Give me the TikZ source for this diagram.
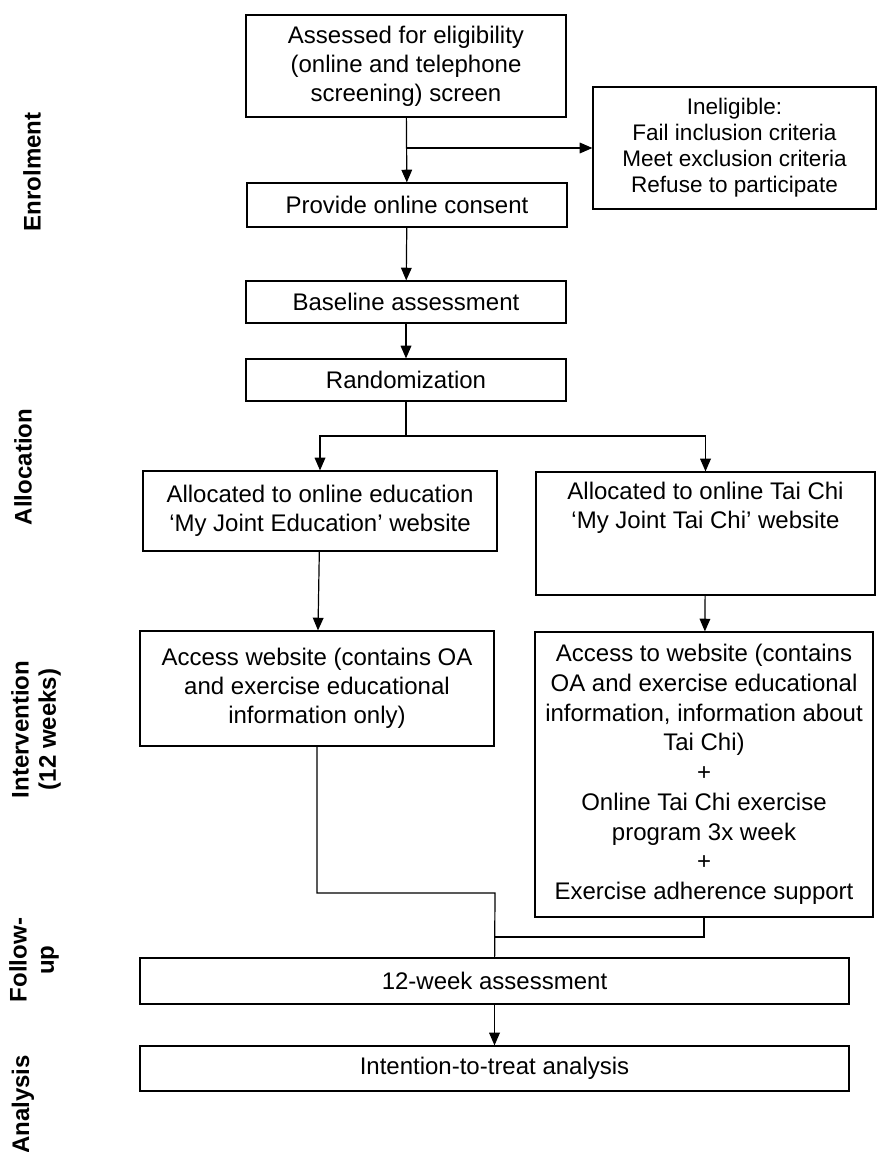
\documentclass[tikz,border=0pt]{standalone}
\usepackage{fontspec}
\setmainfont{Liberation Sans}
\usetikzlibrary{arrows.meta}

\tikzset{
  box/.style={draw, line width=0.9pt, align=center, inner sep=0pt,
    font=\fontsize{18}{21.6}\selectfont},
  phase/.style={rotate=90, align=center, font=\bfseries\fontsize{18}{20.5}\selectfont},
  arr/.style={draw, -{Triangle[length=9.5pt,width=8pt]}, line width=0.9pt},
  link/.style={line width=0.9pt},
}

\begin{document}
\begin{tikzpicture}[x=0.75pt,y=-0.75pt]
    \useasboundingbox (0,0) rectangle (878,1152);

    % phases
    \node[phase] (phEnrol) at (32,172) {Enrolment};
    \node[phase] (phAlloc) at (23,467) {Allocation};
    \node[phase] (phInter) at (36,729.5) {Intervention\\(12 weeks)};
    \node[phase] (phFollow) at (34,960) {Follow-\\up};
    \node[phase] (phAnalysis) at (23,1104.5) {Analysis};

    % boxes
    \node[box, minimum width=240pt, minimum height=76.5pt] (assess) at (406,66)
        {Assessed for eligibility\\(online and telephone\\screening) screen};
    \node[box, minimum width=212.25pt, minimum height=91.5pt,
          font=\fontsize{16.9}{19.5}\selectfont] (inelig) at (734.5,148)
        {Ineligible:\\Fail inclusion criteria\\Meet exclusion criteria\\Refuse to participate};
    \node[box, minimum width=240pt, minimum height=33pt] (consent) at (407,205)
        {Provide online consent};
    \node[box, minimum width=240pt, minimum height=31.5pt] (baseline) at (406,302)
        {Baseline assessment};
    \node[box, minimum width=240pt, minimum height=31.5pt] (random) at (406,380)
        {Randomization};
    \node[box, minimum width=265.5pt, minimum height=60pt] (allocEd) at (320,511)
        {Allocated to online education\\‘My Joint Education’ website};
    \node[box, minimum width=254.25pt, minimum height=92.25pt] (allocTC) at (705.5,533.5) {};
    \node[align=center, inner sep=0pt, font=\fontsize{18}{21.6}\selectfont] (allocTCtext) at (705.5,507.5)
        {Allocated to online Tai Chi\\‘My Joint Tai Chi’ website};
    \node[box, minimum width=265.5pt, minimum height=86.25pt] (accessEd) at (317,688.5)
        {Access website (contains OA\\and exercise educational\\information only)};
    \node[box, minimum width=253.5pt, minimum height=213.75pt,
          font=\fontsize{18}{22.3}\selectfont] (accessTC) at (704,774.5)
        {Access to website (contains\\OA and exercise educational\\information, information about\\Tai Chi)\\+\\Online Tai Chi exercise\\program 3x week\\+\\Exercise adherence support};
    \node[box, minimum width=531.75pt, minimum height=34.5pt] (week12) at (494.5,981)
        {12-week assessment};
    \node[box, minimum width=531.75pt, minimum height=33.75pt] (analysis) at (494.5,1068.5)
        {Intention-to-treat analysis};

    % connectors
    \coordinate (split) at (assess.south |- inelig.west);
    \coordinate (fork) at (406,436);
    \coordinate (join) at (495,893);
    \coordinate (join2) at (495,937);

    \path
        (assess) edge[arr] (consent)
        (consent) edge[arr] (baseline)
        (baseline) edge[arr] (random)
        (allocEd) edge[arr] (accessEd)
        (allocTC) edge[arr] (accessTC)
        (week12) edge[arr] (analysis)
        (split) edge[arr] (inelig);
    \draw[link] (random) -- (fork);
    \draw[arr] (fork) -| (allocEd);
    \draw[arr] (fork) -| (allocTC);
    \draw[link] (accessEd) |- (join) -- (week12);
    \draw[link] (accessTC) |- (join2);
\end{tikzpicture}
\end{document}
